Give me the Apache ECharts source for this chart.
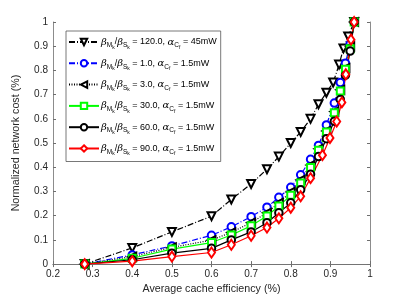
<!DOCTYPE html>
<html><head><meta charset="utf-8">
<script src="https://cdn.jsdelivr.net/npm/echarts@6/dist/echarts.min.js"></script>
<style>html,body{margin:0;padding:0;background:#fff}#c{width:409px;height:300px}</style>
</head><body><div id="c"></div>
<script>
var seriesNames = ['r120', 'r1', 'r3', 'r30', 'r60', 'r90'];
var legendRatio = ['120.0', '1.0', '3.0', '30.0', '60.0', '90.0'];
var legendAlpha = ['45mW', '1.5mW', '1.5mW', '1.5mW', '1.5mW', '1.5mW'];

var x120 = [0.28,0.4,0.5,0.6,0.65,0.7,0.74,0.77,0.8,0.825,0.85,0.87,0.89,0.907,0.922,0.933,0.945,0.96];
var y120 = [0,0.067,0.133,0.198,0.267,0.331,0.392,0.444,0.5,0.546,0.6,0.66,0.708,0.75,0.824,0.891,0.94,1.0];

var xLow = [0.28,0.4,0.5,0.6,0.65,0.7,0.74,0.77,0.8,0.825,0.85,0.87,0.89,0.91,0.925,0.938,0.95,0.96];
var y1  = [0,0.038,0.075,0.119,0.154,0.196,0.235,0.276,0.317,0.369,0.433,0.49,0.575,0.665,0.75,0.83,0.91,1.0];
var y3  = [0,0.031,0.069,0.099,0.131,0.171,0.212,0.253,0.298,0.348,0.409,0.476,0.55,0.63,0.72,0.81,0.9,1.0];
var y30 = [0,0.024,0.062,0.089,0.12,0.158,0.199,0.24,0.284,0.335,0.399,0.47,0.546,0.625,0.715,0.805,0.89,1.0];
var y60 = [0,0.018,0.045,0.065,0.1,0.133,0.171,0.212,0.253,0.307,0.371,0.444,0.518,0.59,0.68,0.78,0.88,1.0];

var x90 = [0.28,0.4,0.5,0.6,0.65,0.7,0.74,0.77,0.8,0.825,0.85,0.88,0.899,0.916,0.929,0.939,0.952,0.96];
var y90 = [0,0.012,0.031,0.048,0.08,0.117,0.151,0.189,0.233,0.28,0.355,0.45,0.521,0.589,0.668,0.784,0.927,1.0];

var xTicks = ['0.2','0.3','0.4','0.5','0.6','0.7','0.8','0.9','1'];
var yTicks = ['0','0.1','0.2','0.3','0.4','0.5','0.6','0.7','0.8','0.9','1'];

function pairs(xs, ys){ return xs.map(function(x,i){ return [x, ys[i]]; }); }

var chart = echarts.init(document.getElementById('c'), null, {renderer:'canvas'});
var axisCol = '#262626';
var boxCol = '#6e6e6e';
function mk(name, xs, ys, color, lineType, symbol, size, rot){
  return {
    name: name, type: 'line', data: pairs(xs, ys),
    symbol: symbol, symbolSize: size, symbolRotate: rot || 0,
    showAllSymbol: true,
    lineStyle: {color: color, width: 1.2, type: lineType},
    itemStyle: {color: color, borderColor: color, borderWidth: 1.2},
    emphasis: {disabled: true}, animation: false, z: 3
  };
}
var rich = {
  b: {fontFamily: 'DejaVu Serif', fontStyle: 'italic', fontSize: 10, color: '#000'},
  s: {fontFamily: 'Liberation Sans', fontSize: 6.5, color: '#000', padding: [7,0,0,0]},
  ss: {fontFamily: 'Liberation Sans', fontSize: 5, color: '#000', padding: [11,0,0,0]},
  n: {fontFamily: 'Liberation Sans', fontSize: 9, color: '#000'}
};
function axisCommon(){
  return {
    axisLine: {show: true, lineStyle: {color: boxCol, width: 0.8}},
    axisTick: {show: true, inside: true, length: 3, lineStyle: {color: boxCol}},
    splitLine: {show: false}
  };
}
var option = {
  animation: false,
  backgroundColor: '#fff',
  grid: {left: 53, right: 39, top: 22, bottom: 33},
  xAxis: [Object.assign(axisCommon(), {
    type: 'value', min: 0.2, max: 1, interval: 0.1,
    name: 'Average cache efficiency (%)', nameLocation: 'middle', nameGap: 19,
    nameTextStyle: {fontFamily: 'Liberation Sans', fontSize: 10.7, color: axisCol},
    axisLabel: {fontFamily: 'Liberation Sans', fontSize: 10, color: axisCol, margin: 5,
      formatter: function(v){ var i = Math.round((v-0.2)/0.1); return xTicks[i] || ''; }}
  }), Object.assign(axisCommon(), {
    type: 'value', min: 0.2, max: 1, interval: 0.1, position: 'top',
    axisLabel: {show: false}
  })],
  yAxis: [Object.assign(axisCommon(), {
    type: 'value', min: 0, max: 1, interval: 0.1,
    name: 'Normalized network cost (%)', nameLocation: 'middle', nameGap: 31,
    nameTextStyle: {fontFamily: 'Liberation Sans', fontSize: 10.7, color: axisCol},
    axisLabel: {fontFamily: 'Liberation Sans', fontSize: 10, color: axisCol, margin: 5,
      formatter: function(v){ var i = Math.round(v/0.1); return yTicks[i] || ''; }}
  }), Object.assign(axisCommon(), {
    type: 'value', min: 0, max: 1, interval: 0.1, position: 'right',
    axisLabel: {show: false}
  })],
  legend: {
    orient: 'vertical', left: 66, top: 31,
    padding: [6, 4, 5, 2], itemGap: 8.3, itemWidth: 30, itemHeight: 8,
    backgroundColor: '#fff', borderColor: '#555', borderWidth: 0.8,
    data: seriesNames,
    textStyle: {rich: rich, padding: [0,0,0,-3]},
    formatter: function(name){
      var i = seriesNames.indexOf(name);
      return '{b|β}{s|M}{ss|k}{n|/}{b|β}{s|S}{ss|k}{n| = ' + legendRatio[i] + ', }{b|α}{s|C}{ss|f}{n| = ' + legendAlpha[i] + '}';
    }
  },
  series: [
    mk('r120', x120, y120, '#000000', [6,2,1,2], 'emptyTriangle', 8, 180),
    mk('r1', xLow, y1, '#0000ff', [6,2,1,2], 'emptyCircle', 7.5),
    mk('r3', xLow, y3, '#000000', [1,1.5], 'emptyTriangle', 8, 90),
    mk('r30', xLow, y30, '#00ff00', 'solid', 'emptyRect', 7),
    mk('r60', xLow, y60, '#000000', 'solid', 'emptyCircle', 7.5),
    mk('r90', x90, y90, '#ff0000', 'solid', 'emptyDiamond', [7,10])
  ]
};
chart.setOption(option);
</script></body></html>
